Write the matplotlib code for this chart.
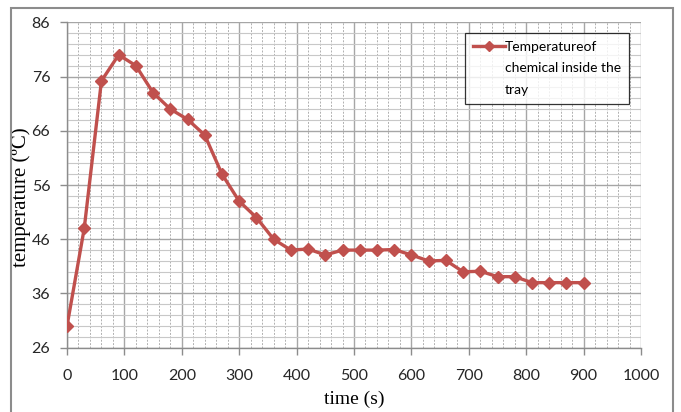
import matplotlib
matplotlib.use('Agg')
import matplotlib.pyplot as plt
from matplotlib.ticker import MultipleLocator
from matplotlib.patches import Rectangle
from matplotlib.lines import Line2D

# data
time_s = [0, 30, 60, 90, 120, 150, 180, 210, 240, 270, 300, 330, 360, 390, 420,
          450, 480, 510, 540, 570, 600, 630, 660, 690, 720, 750, 780, 810, 840, 870, 900]
temp_c = [30.0, 48.0, 75.2, 80.0, 78.0, 73.0, 70.0, 68.1, 65.2, 58.0, 53.0, 50.0, 46.0, 44.0, 44.2,
          43.1, 44.0, 44.0, 44.0, 44.1, 43.1, 42.0, 42.1, 40.0, 40.1, 39.1, 39.1, 38.0, 38.0, 38.0, 38.0]
legend_lines = ['Temperatureof', 'chemical inside the', 'tray']

tick_font = ['Lato', 'DejaVu Sans']
serif_font = ['Liberation Serif', 'DejaVu Serif']
red = '#c0504d'

fig = plt.figure(figsize=(6.81, 4.12), dpi=100)
ax = fig.add_axes([0.0984, 0.156, 0.8429, 0.7899])

# gridlines like the spreadsheet chart
ax.xaxis.set_major_locator(MultipleLocator(100))
ax.xaxis.set_minor_locator(MultipleLocator(20))
ax.yaxis.set_major_locator(MultipleLocator(10))
ax.yaxis.set_minor_locator(MultipleLocator(2))
ax.grid(which='major', color='#a6a6a6', lw=1.0)
ax.grid(which='minor', axis='y', color='#c8c8c8', lw=0.8)
ax.grid(which='minor', axis='x', color='#b0b0b0', lw=0.7, ls=(0, (2, 1.5)))
ax.set_axisbelow(True)

line, = ax.plot(time_s, temp_c, color=red, lw=2.4, marker='D', ms=6.5,
                mec=red, mfc=red, zorder=3)

ax.set_xlim(0, 1000)
ax.set_ylim(26, 86)
ax.set_yticks(range(26, 87, 10))

for side in ['top', 'right']:
    ax.spines[side].set_visible(False)
for side in ['left', 'bottom']:
    ax.spines[side].set_color('#8c8c8c')
    ax.spines[side].set_linewidth(1.0)

ax.tick_params(which='major', length=5, width=1.0, color='#8c8c8c', direction='out',
               labelsize=11.5, labelcolor='#262626')
ax.tick_params(which='minor', length=0)
ax.tick_params(axis='x', pad=10)
ax.tick_params(axis='y', pad=7)
for lab in ax.get_xticklabels() + ax.get_yticklabels():
    lab.set_family(tick_font)

ax.set_xlabel('time (s)', family=serif_font, fontsize=14, labelpad=6)
ax.set_ylabel('temperature (ºC)', family=serif_font, fontsize=15)
ax.yaxis.set_label_coords(-0.063, 0.463)

# legend: handle sits beside the first text line only
blank = Line2D([], [], color='none')
leg = ax.legend([line, blank, blank], legend_lines, loc='upper right',
                bbox_to_anchor=(0.979, 0.967), borderaxespad=0, frameon=True, fancybox=False,
                prop={'family': tick_font, 'size': 10}, handlelength=2.3, handletextpad=0.05,
                borderpad=0.55, labelspacing=0.7, markerscale=0.75)
leg.get_frame().set_edgecolor('#000000')
leg.get_frame().set_linewidth(0.9)

# outer chart frame
frame = Rectangle((11 / 681, -0.05), (673 - 11) / 681, 1 - 8 / 412 + 0.05,
                  transform=fig.transFigure, fill=False, edgecolor='#8c8c8c', lw=1.5)
fig.patches.append(frame)

fig.savefig('out.png', dpi=100)
